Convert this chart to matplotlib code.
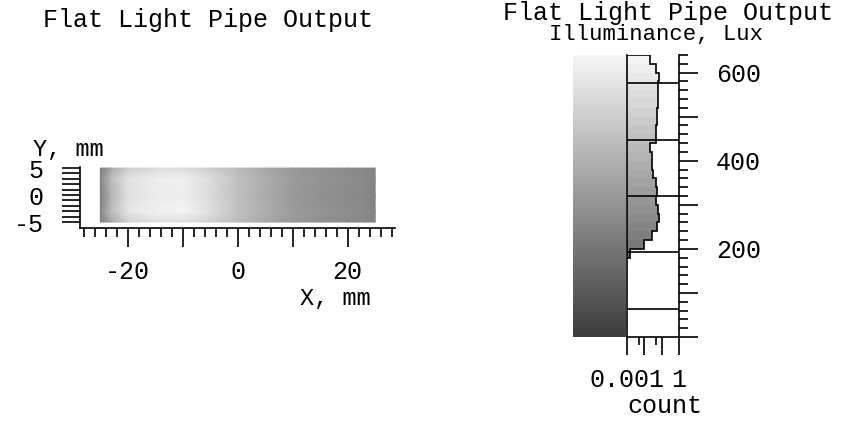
import numpy as np
import matplotlib
matplotlib.use("Agg")
import matplotlib.pyplot as plt
from matplotlib.colors import LinearSegmentedColormap, Normalize
from matplotlib.cm import ScalarMappable
from matplotlib.ticker import FixedLocator, MultipleLocator, FuncFormatter

plt.rcParams["font.family"] = ["Liberation Mono", "DejaVu Sans Mono"]

W, H = 850, 421

# illuminance map (lux) sampled on a coarse grid, x/y in mm
MAP_X = [-25, -23, -20, -15, -10, -5, 0, 5, 10, 15, 20, 23, 25]
MAP_Y = [-5, -3, 0, 3, 5]
MAP_LUX = [
    [230, 370, 510, 560, 560, 510, 440, 370, 320, 290, 270, 260, 240],
    [260, 440, 580, 620, 630, 560, 460, 390, 330, 300, 280, 270, 250],
    [230, 410, 560, 600, 610, 540, 450, 380, 320, 290, 270, 260, 240],
    [260, 440, 570, 610, 620, 550, 460, 390, 330, 300, 280, 270, 250],
    [230, 370, 500, 550, 550, 500, 430, 370, 320, 290, 270, 260, 240],
]

# histogram of illuminance (20 lux bins, 180..640), count fraction per bin
HIST_EDGES = np.arange(180, 641, 20)
HIST_COUNT = [0.0015, 0.009, 0.028, 0.055, 0.070, 0.065, 0.045, 0.052, 0.045,
              0.033, 0.026, 0.028, 0.022, 0.050, 0.050, 0.052, 0.052, 0.058,
              0.060, 0.061, 0.070, 0.047, 0.021]
LEVELS = [64, 192, 320, 448, 576]
LUX_MAX = 640

cmap = LinearSegmentedColormap.from_list("pipe", ["#3c3c3c", "#f6f6f6"])
norm = Normalize(0, LUX_MAX)

LW = 1.2
FS = 18


def px_axes(fig, l, t, r, b):
    return fig.add_axes([l / W, 1 - b / H, (r - l) / W, (b - t) / H])


def ftext(fig, x, y, s, **kw):
    fig.text(x / W, 1 - y / H, s, **kw)


fig = plt.figure(figsize=(W / 100, H / 100), dpi=100)

# --- left: spatial map ---
ax = px_axes(fig, 80, 167, 395, 228)
ax.pcolormesh(MAP_X, MAP_Y, np.array(MAP_LUX), cmap=cmap, norm=norm,
              shading="gouraud", rasterized=True)
ax.set_xlim(-28.7, 28.6)
ax.set_ylim(-6.1, 5.2)
for s in ("top", "right"):
    ax.spines[s].set_visible(False)
for s in ("left", "bottom"):
    ax.spines[s].set_linewidth(LW)
ax.xaxis.set_major_locator(MultipleLocator(10))
ax.xaxis.set_minor_locator(MultipleLocator(2))
ax.xaxis.set_major_formatter(FuncFormatter(lambda v, p: f"{v:.0f}" if round(v) % 20 == 0 else ""))
ax.yaxis.set_major_locator(FixedLocator(range(-5, 6)))
ax.yaxis.set_major_formatter(FuncFormatter(lambda v, p: f"{v:.0f}" if round(v) % 5 == 0 else ""))
ax.tick_params(axis="x", which="major", direction="out", length=13.7, width=LW, pad=9, labelsize=FS)
ax.tick_params(axis="x", which="minor", direction="out", length=6.5, width=LW)
ax.tick_params(axis="y", direction="out", length=13, width=LW, pad=13, labelsize=FS)
ftext(fig, 208, 27, "Flat Light Pipe Output", ha="center", va="baseline", fontsize=FS)
ftext(fig, 33, 156, "Y, mm", ha="left", va="baseline", fontsize=FS - 1)
ftext(fig, 300, 305, "X, mm", ha="left", va="baseline", fontsize=FS - 1)

# --- right: colour scale ---
cax = px_axes(fig, 573, 55, 626, 337)
cb = fig.colorbar(ScalarMappable(norm=norm, cmap=cmap), cax=cax)
cb.outline.set_visible(False)
cb.set_ticks([])

# --- right: histogram ---
hx = px_axes(fig, 627, 55, 679, 337)
hx.set_xscale("log")
hx.set_xlim(0.001, 1)
hx.set_ylim(0, LUX_MAX)
centers = (HIST_EDGES[:-1] + HIST_EDGES[1:]) / 2
hx.barh(centers, np.array(HIST_COUNT) - 0.001, height=20, left=0.001,
        color=cmap(norm(centers)), edgecolor="none")
hx.stairs(HIST_COUNT, HIST_EDGES, orientation="horizontal", baseline=0.001,
          color="black", linewidth=LW)
hx.hlines(LEVELS, 0.001, 1, color="black", linewidth=LW)
hx.spines["top"].set_visible(False)
for s in ("left", "right", "bottom"):
    hx.spines[s].set_linewidth(LW)
hx.yaxis.tick_right()
hx.yaxis.set_major_locator(MultipleLocator(100))
hx.yaxis.set_minor_locator(MultipleLocator(20))
hx.yaxis.set_major_formatter(FuncFormatter(lambda v, p: f"{v:.0f}" if v > 0 and round(v) % 200 == 0 else ""))
hx.tick_params(axis="y", which="major", direction="out", length=13.7, width=LW, pad=13, labelsize=FS)
hx.tick_params(axis="y", which="minor", direction="out", length=6.5, width=LW)
hx.xaxis.set_major_locator(FixedLocator([0.001, 0.01, 0.1, 1]))
hx.xaxis.set_minor_locator(FixedLocator([0.005, 0.05]))
hx.xaxis.set_major_formatter(FuncFormatter(lambda v, p: {0.001: "0.001", 1: "1"}.get(round(v, 3), "")))
hx.xaxis.set_minor_formatter(FuncFormatter(lambda v, p: ""))
hx.tick_params(axis="x", which="major", direction="out", length=13, width=LW, pad=9, labelsize=FS)
hx.tick_params(axis="x", which="minor", direction="out", length=6, width=LW)
ftext(fig, 665, 413, "count", ha="center", va="baseline", fontsize=FS)
ftext(fig, 668, 20, "Flat Light Pipe Output", ha="center", va="baseline", fontsize=FS)
ftext(fig, 656, 40, "Illuminance, Lux", ha="center", va="baseline", fontsize=16)

fig.savefig("out.png", dpi=100, facecolor="white")
